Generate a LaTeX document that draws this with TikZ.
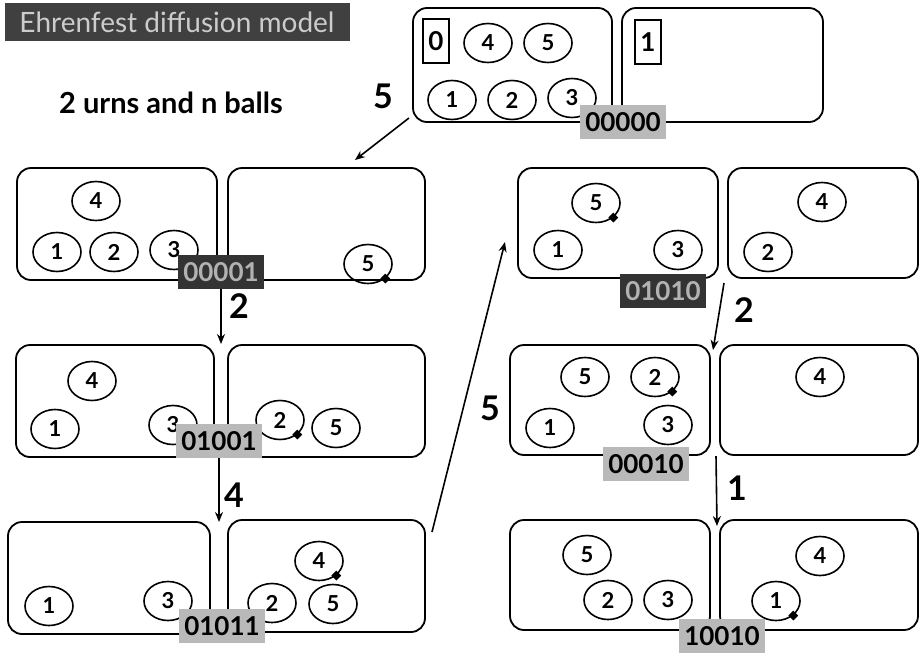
\documentclass[tikz,border=0pt]{standalone}
\usepackage{fontspec}
\setmainfont{Lato}
\usetikzlibrary{shapes.geometric,arrows.meta}
\newcommand\urnbox[5]{\node[urn, minimum width=#4pt, minimum height=#5pt] (#1) at (#2,#3) {};}
\begin{document}
\begin{tikzpicture}[x=1pt,y=-1pt,
  urn/.style={draw, rounded corners=14pt, line width=1.8pt, inner sep=0pt, outer sep=0pt},
  ball/.style={draw, ellipse, line width=1.6pt, minimum width=48pt, minimum height=39pt, inner sep=0pt, font=\bfseries\fontsize{22}{22}\selectfont},
  pick/.style={fill=black, diamond, inner sep=0pt, minimum size=10pt},
  tag/.style={draw, line width=1.4pt, inner sep=0pt, minimum width=26pt, minimum height=44pt, font=\bfseries\fontsize{26}{26}\selectfont},
  state/.style={fill=gray!55, text=black, inner xsep=5pt, minimum height=34pt, font=\bfseries\fontsize{26}{26}\selectfont},
  darkstate/.style={state, fill=black!80, text=gray!60},
  steplbl/.style={font=\bfseries\fontsize{34}{34}\selectfont},
  arr/.style={-{Stealth[length=10pt,width=8pt]}, line width=1.6pt},
]
\useasboundingbox[fill=white] (0,0) rectangle (920,656);

% heading
\node[fill=black!75, text=gray!40, minimum width=345pt, minimum height=38pt, inner sep=0pt,
      font=\fontsize{28}{28}\selectfont] (title) at (177,22) {Ehrenfest diffusion model};
\node[font=\bfseries\fontsize{29}{29}\selectfont] (sub) at (171,103) {2 urns and n balls};

% ---- state 00000
\urnbox{A1}{512.5}{65}{199}{114}
\urnbox{A2}{722.5}{65}{201}{114}
\node[tag] (t0) at (436,41) {0};
\node[tag] (t1) at (648,42) {1};
\node[ball] (a4) at (488,43) {4};
\node[ball] (a5) at (548,43) {5};
\node[ball] (a1) at (452,100) {1};
\node[ball] (a2) at (512,100) {2};
\node[ball] (a3) at (572,98) {3};
\node[state] (sA) at (623,122) {00000};

% ---- state 00001
\urnbox{B1}{117}{224}{200}{112}
\urnbox{B2}{326.5}{224}{197}{112}
\node[ball] (b4) at (96,201) {4};
\node[ball] (b1) at (57,252) {1};
\node[ball] (b2) at (114,252) {2};
\node[ball] (b3) at (174,250) {3};
\node[ball] (b5) at (368,264) {5};
\node[pick] at (b5.-40) {};
\node[darkstate] (sB) at (221,272) {00001};

% ---- state 01001
\urnbox{C1}{115}{401}{198}{112}
\urnbox{C2}{326.5}{401}{197}{112}
\node[ball] (c4) at (92,381) {4};
\node[ball] (c1) at (55,429) {1};
\node[ball] (c3) at (173,425) {3};
\node[ball] (c2) at (280,420) {2};
\node[pick] at (c2.-40) {};
\node[ball] (c5) at (336,428) {5};
\node[state] (sC) at (219,441) {01001};

% ---- state 01011
\urnbox{D1}{109}{578}{202}{112}
\urnbox{D2}{326.5}{576}{197}{112}
\node[ball] (d1) at (49,606) {1};
\node[ball] (d3) at (168,601) {3};
\node[ball] (d4) at (319,561) {4};
\node[pick] at (d4.-40) {};
\node[ball] (d2) at (272,603) {2};
\node[ball] (d5) at (333,604) {5};
\node[state] (sD) at (222,626) {01011};

% ---- state 01010
\urnbox{E1}{618}{223}{200}{110}
\urnbox{E2}{823}{223}{190}{110}
\node[ball] (e5) at (596,203) {5};
\node[pick] at (e5.-40) {};
\node[ball] (e1) at (558,250) {1};
\node[ball] (e3) at (678,250) {3};
\node[ball] (e4) at (822,202) {4};
\node[ball] (e2) at (768,252) {2};
\node[darkstate] (sE) at (663,291) {01010};

% ---- state 00010
\urnbox{F1}{610}{400}{200}{110}
\urnbox{F2}{819}{400}{198}{110}
\node[ball] (f5) at (585,377) {5};
\node[ball] (f2) at (655,377) {2};
\node[pick] at (f2.-40) {};
\node[ball] (f1) at (550,428) {1};
\node[ball] (f3) at (668,425) {3};
\node[ball] (f4) at (820,377) {4};
\node[state] (sF) at (646,464) {00010};

% ---- state 10010
\urnbox{G1}{610}{575}{200}{110}
\urnbox{G2}{819}{575}{198}{110}
\node[ball] (g5) at (587,555) {5};
\node[ball] (g2) at (608,600) {2};
\node[ball] (g3) at (668,600) {3};
\node[ball] (g4) at (820,556) {4};
\node[ball] (g1) at (776,601) {1};
\node[pick] at (g1.-40) {};
\node[state] (sG) at (722,636) {10010};

% ---- transitions
\coordinate (p5s) at (409,118);
\coordinate (p5e) at (355,160);
\draw[arr] (p5s) -- (p5e);
\node[steplbl] (l5a) at (383,96) {5};

\coordinate (p2s) at (221,289);
\coordinate (p2e) at (221,344);
\draw[arr] (p2s) -- (p2e);
\node[steplbl] (l2a) at (239,306) {2};

\coordinate (p4s) at (219,458);
\coordinate (p4e) at (219,522);
\draw[arr] (p4s) -- (p4e);
\node[steplbl] (l4) at (234,495) {4};

\coordinate (p5bs) at (432,532);
\coordinate (p5be) at (505,242);
\draw[arr] (p5bs) -- (p5be);
\node[steplbl] (l5b) at (490,408) {5};

\coordinate (p2bs) at (724,283);
\coordinate (p2be) at (713,350);
\draw[arr] (p2bs) -- (p2be);
\node[steplbl] (l2b) at (744,310) {2};

\coordinate (p1s) at (716,456);
\coordinate (p1e) at (717,526);
\draw[arr] (p1s) -- (p1e);
\node[steplbl] (l1) at (737,488) {1};
\end{tikzpicture}
\end{document}
